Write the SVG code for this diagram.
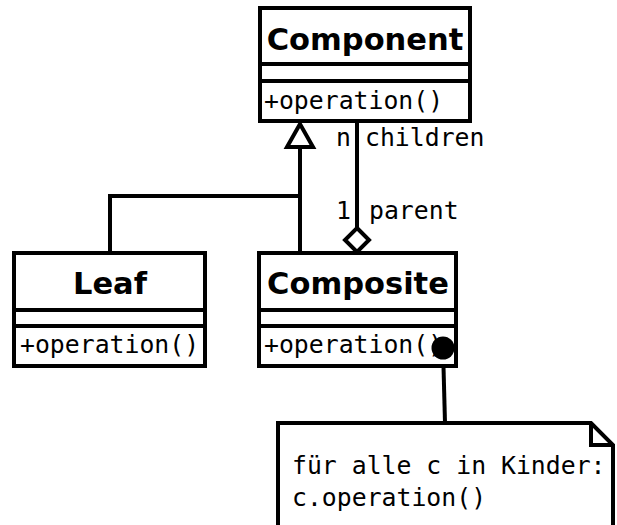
<svg xmlns="http://www.w3.org/2000/svg" width="617" height="525" viewBox="0 0 617 525">
<style>
.box{fill:#fff;stroke:#000;stroke-width:4}
.ln{fill:none;stroke:#000;stroke-width:4}
.title{font-family:"DejaVu Sans",sans-serif;font-weight:bold;font-size:30.5px;text-anchor:middle;fill:#000}
.mono{font-family:"DejaVu Sans Mono",monospace;font-size:24.8px;fill:#000}
</style>
<rect width="617" height="525" fill="#fff"/>
<g id="connectors">
<polyline class="ln" points="110,252 110,196 300,196"/>
<line class="ln" x1="300" y1="147" x2="300" y2="252"/>
<polygon class="box" points="300,124 287,147 313,147"/>
<line class="ln" x1="357" y1="121" x2="357" y2="228"/>
<polygon class="box" points="357,228 369,240 357,252 345,240"/>
<text class="mono" x="336" y="146">n</text>
<text class="mono" x="365" y="146">children</text>
<text class="mono" x="336" y="219">1</text>
<text class="mono" x="369" y="219">parent</text>
<line class="ln" x1="443" y1="348" x2="445" y2="423"/>
</g>
<g id="component">
<rect class="box" x="260" y="8" width="210" height="113"/>
<line class="ln" x1="260" y1="64" x2="470" y2="64"/>
<line class="ln" x1="260" y1="81" x2="470" y2="81"/>
<text class="title" x="365" y="50">Component</text>
<text class="mono" x="264" y="109">+operation()</text>
</g>
<g id="leaf">
<rect class="box" x="14" y="253" width="191" height="113"/>
<line class="ln" x1="14" y1="310" x2="205" y2="310"/>
<line class="ln" x1="14" y1="326" x2="205" y2="326"/>
<text class="title" x="110" y="294">Leaf</text>
<text class="mono" x="20" y="353">+operation()</text>
</g>
<g id="composite">
<rect class="box" x="259" y="253" width="197" height="113"/>
<line class="ln" x1="259" y1="310" x2="456" y2="310"/>
<line class="ln" x1="259" y1="326" x2="456" y2="326"/>
<text class="title" x="358" y="294">Composite</text>
<text class="mono" x="264" y="353">+operation()</text>
<circle cx="443" cy="348" r="11.5" fill="#000"/>
</g>
<g id="note">
<polygon class="box" points="278,423 591,423 613,445 613,530 278,530"/>
<polyline class="ln" points="591,423 591,445 613,445"/>
<text class="mono" x="292" y="474">für alle c in Kinder:</text>
<text class="mono" x="292" y="506">c.operation()</text>
</g>
</svg>
